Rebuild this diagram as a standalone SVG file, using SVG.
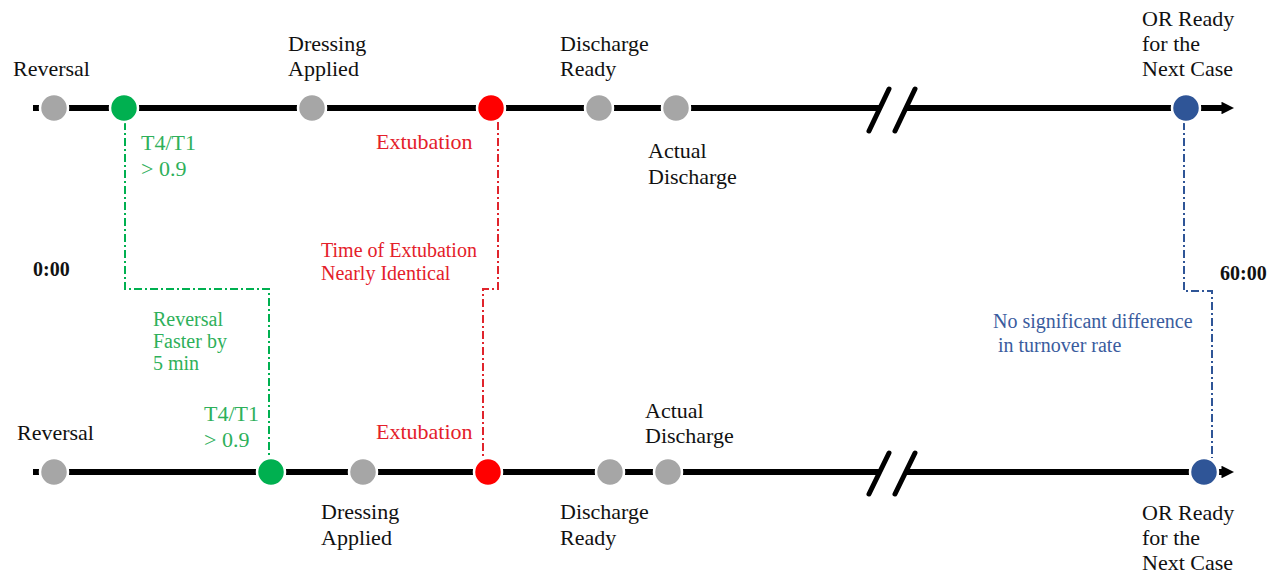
<svg xmlns="http://www.w3.org/2000/svg" width="1283" height="576" viewBox="0 0 1283 576">
<style>
text{font-family:"Liberation Serif","Times New Roman",serif;font-size:22px;fill:#111}
.s{font-size:20px}
.b{font-weight:bold;font-size:20px}
.g{fill:#2EB05A}.r{fill:#E4202A}.bl{fill:#3A5C9E}
.axis{stroke:#000;stroke-width:6;fill:none}
.brk{stroke:#000;stroke-width:5;stroke-linecap:round;fill:none}
.dd{fill:none;stroke-width:2;stroke-dasharray:8 3 2 3}
.n{stroke:#fff;stroke-width:2.5}
.gray{fill:#A6A6A6}.green{fill:#00B050}.red{fill:#FF0000}.blue{fill:#2F5597}
</style>
<defs>
<marker id="ah" viewBox="0 0 10 10" refX="2" refY="5" markerWidth="2.1" markerHeight="2.1" markerUnits="strokeWidth" orient="auto">
<path d="M0,0 L10,5 L0,10 z" fill="#000"/>
</marker>
</defs>
<rect width="1283" height="576" fill="#fff"/>
<g id="connectors">
<path class="axis" d="M33,108 H879"/>
<path class="axis" d="M905,108 H1224" marker-end="url(#ah)"/>
<path class="brk" d="M869,131 L889,89 M895,131 L915,89"/>
<path class="axis" d="M33,472 H879"/>
<path class="axis" d="M905,472 H1224" marker-end="url(#ah)"/>
<path class="brk" d="M869,494 L889,453 M895,494 L915,453"/>
<path class="dd" stroke="#00B050" d="M125,122 V289 H269 V458"/>
<path class="dd" stroke="#E0242C" d="M498,122 V289 H483 V458"/>
<path class="dd" stroke="#2F5597" d="M1184,122 V291 H1212 V458"/>
</g>
<g id="top-reversal"><circle class="n gray" cx="54" cy="108" r="14"/><text x="13" y="76">Reversal</text></g>
<g id="top-t4t1"><circle class="n green" cx="124" cy="108" r="14"/><text class="g" x="141" y="150">T4/T1</text><text class="g" x="141" y="176">&gt; 0.9</text></g>
<g id="top-dressing"><circle class="n gray" cx="312" cy="108" r="14"/><text x="288" y="51">Dressing</text><text x="288" y="76">Applied</text></g>
<g id="top-extubation"><circle class="n red" cx="491" cy="108" r="14"/><text class="r" x="376" y="149">Extubation</text></g>
<g id="top-discharge-ready"><circle class="n gray" cx="599" cy="108" r="14"/><text x="560" y="51">Discharge</text><text x="560" y="76">Ready</text></g>
<g id="top-actual-discharge"><circle class="n gray" cx="676" cy="108" r="14"/><text x="648" y="158">Actual</text><text x="648" y="184">Discharge</text></g>
<g id="top-or-ready"><circle class="n blue" cx="1186" cy="108" r="14"/><text x="1142" y="26">OR Ready</text><text x="1142" y="51">for the</text><text x="1142" y="76">Next Case</text></g>
<g id="bot-reversal"><circle class="n gray" cx="54" cy="472" r="14"/><text x="17" y="440">Reversal</text></g>
<g id="bot-t4t1"><circle class="n green" cx="271" cy="472" r="14"/><text class="g" x="204" y="421">T4/T1</text><text class="g" x="204" y="447">&gt; 0.9</text></g>
<g id="bot-dressing"><circle class="n gray" cx="363" cy="472" r="14"/><text x="321" y="519">Dressing</text><text x="321" y="545">Applied</text></g>
<g id="bot-extubation"><circle class="n red" cx="488" cy="472" r="14"/><text class="r" x="376" y="439">Extubation</text></g>
<g id="bot-discharge-ready"><circle class="n gray" cx="610" cy="472" r="14"/><text x="560" y="519">Discharge</text><text x="560" y="545">Ready</text></g>
<g id="bot-actual-discharge"><circle class="n gray" cx="668" cy="472" r="14"/><text x="645" y="418">Actual</text><text x="645" y="443">Discharge</text></g>
<g id="bot-or-ready"><circle class="n blue" cx="1204" cy="472" r="14"/><text x="1142" y="520">OR Ready</text><text x="1142" y="545">for the</text><text x="1142" y="570">Next Case</text></g>
<g id="labels">
<text class="b" x="33" y="276">0:00</text>
<text class="b" x="1220" y="280">60:00</text>
<text class="s r" x="321" y="257">Time of Extubation</text>
<text class="s r" x="321" y="280">Nearly Identical</text>
<text class="s g" x="153" y="326">Reversal</text>
<text class="s g" x="153" y="348">Faster by</text>
<text class="s g" x="153" y="370">5 min</text>
<text class="s bl" x="993" y="328">No significant difference</text>
<text class="s bl" x="998" y="352">in turnover rate</text>
</g>
</svg>
